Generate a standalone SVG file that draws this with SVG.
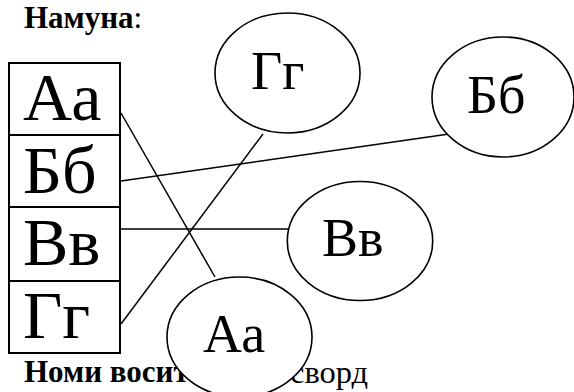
<svg xmlns="http://www.w3.org/2000/svg" width="574" height="392" viewBox="0 0 574 392">
<style>
.t{font-family:"Liberation Serif","Times New Roman",serif;fill:#000}
.b{font-weight:bold}
.big{font-size:68px}
.mid{font-size:54px}
.sm{font-size:31px}
.box{fill:none;stroke:#000;stroke-width:2}
.el{fill:#fff;stroke:#000;stroke-width:1.6}
.ln{stroke:#000;stroke-width:1.5;fill:none}
</style>
<rect width="574" height="392" fill="#fff"/>
<text class="t sm" x="24" y="28"><tspan class="b">Намуна</tspan>:</text>
<text class="t sm b" x="24" y="382">Номи восит</text>
<text class="t sm" x="290" y="383" style="font-size:32.5px">сворд</text>
<g id="list">
<rect class="box" x="9" y="63" width="111" height="290"/>
<line class="box" x1="9" y1="135" x2="120" y2="135"/>
<line class="box" x1="9" y1="207" x2="120" y2="207"/>
<line class="box" x1="9" y1="281" x2="120" y2="281"/>
<text class="t big" x="23" y="120">Аа</text>
<text class="t big" x="23" y="193">Бб</text>
<text class="t big" x="23" y="265">Вв</text>
<text class="t big" x="23" y="338">Гг</text>
</g>
<g id="connectors">
<line class="ln" x1="121" y1="113" x2="215" y2="277"/>
<line class="ln" x1="121" y1="181" x2="456" y2="133"/>
<line class="ln" x1="121" y1="229" x2="288" y2="229"/>
<line class="ln" x1="121" y1="324" x2="263" y2="134"/>
</g>
<g id="node-gg"><ellipse class="el" cx="287.5" cy="73" rx="72.5" ry="60"/><text class="t mid" x="251" y="89">Гг</text></g>
<g id="node-bb"><ellipse class="el" cx="503" cy="97" rx="71" ry="60"/><text class="t mid" x="467" y="113">Бб</text></g>
<g id="node-vv"><ellipse class="el" cx="360" cy="241" rx="72.7" ry="59.5"/><text class="t mid" x="322" y="256">Вв</text></g>
<g id="node-aa"><ellipse class="el" cx="239.5" cy="337" rx="72.5" ry="60"/><text class="t mid" x="203" y="352">Аа</text></g>
</svg>
